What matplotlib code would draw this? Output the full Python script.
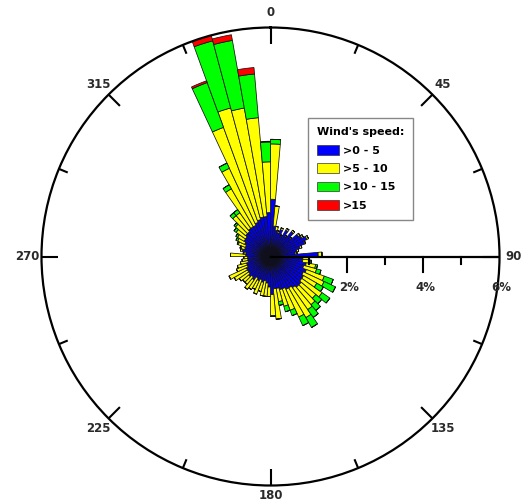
import matplotlib
matplotlib.use("Agg")
import matplotlib.pyplot as plt
import matplotlib.patches as mpatches
import numpy as np

# direction bins (deg, centre of 5 deg sectors)
directions = np.arange(2.5, 360, 5)

# frequency (%) per speed class, 0-360 in 5 deg steps (12 values per row = 60 deg)
blue = [1.50, 0.80, 0.70, 0.65, 0.75, 0.60, 0.80, 0.65, 0.85, 0.70, 0.90, 0.95,
        1.05, 0.95, 0.80, 0.70, 0.65, 1.25, 0.85, 0.85, 0.95, 0.90, 1.00, 0.95,
        1.00, 1.00, 1.05, 1.05, 1.00, 0.95, 0.95, 0.90, 0.90, 0.85, 0.85, 1.00,
        0.80, 0.70, 0.65, 0.70, 0.65, 0.70, 0.65, 0.75, 0.70, 0.75, 0.70, 0.70,
        0.70, 0.65, 0.65, 0.60, 0.60, 0.60, 0.65, 0.65, 0.75, 0.70, 0.70, 0.75,
        0.80, 0.80, 0.85, 0.85, 0.90, 0.90, 0.90, 0.95, 1.00, 1.05, 1.05, 1.15]
yellow = [1.45, 0.53, 0.10, 0.05, 0.05, 0.03, 0.05, 0.03, 0.05, 0.03, 0.05, 0.05,
          0.05, 0.03, 0.05, 0.05, 0.05, 0.10, 0.15, 0.20, 0.25, 0.35, 0.50, 0.60,
          0.40, 0.65, 0.50, 0.60, 0.70, 0.90, 0.80, 0.60, 0.45, 0.35, 0.80, 0.55,
          0.25, 0.35, 0.40, 0.25, 0.40, 0.25, 0.35, 0.30, 0.25, 0.20, 0.30, 0.40,
          0.50, 0.30, 0.25, 0.20, 0.15, 0.10, 0.40, 0.05, 0.05, 0.10, 0.20, 0.20,
          0.20, 0.30, 0.35, 0.55, 0.50, 1.15, 1.65, 2.65, 3.03, 2.90, 2.60, 1.33]
green = [0.12, 0.00, 0.00, 0.00, 0.00, 0.00, 0.00, 0.00, 0.00, 0.00, 0.00, 0.00,
         0.00, 0.00, 0.00, 0.00, 0.00, 0.00, 0.00, 0.03, 0.05, 0.12, 0.25, 0.33,
         0.20, 0.25, 0.20, 0.20, 0.25, 0.30, 0.25, 0.15, 0.15, 0.10, 0.00, 0.02,
         0.00, 0.00, 0.00, 0.00, 0.00, 0.00, 0.00, 0.00, 0.00, 0.00, 0.00, 0.00,
         0.00, 0.00, 0.00, 0.00, 0.00, 0.00, 0.00, 0.02, 0.00, 0.03, 0.03, 0.05,
         0.05, 0.07, 0.05, 0.10, 0.10, 0.12, 0.15, 1.25, 1.82, 1.80, 1.15, 0.52]
red = [0.0] * 67 + [0.05, 0.15, 0.15, 0.17, 0.02]

classes = [">0 - 5", ">5 - 10", ">10 - 15", ">15"]
colors = ["#0000ff", "#ffff00", "#00ff00", "#ff0000"]

fig = plt.figure(figsize=(5.32, 5.04), dpi=100)
pos = [41.5 / 532, (504 - 485.5) / 504, 458 / 532, 458 / 504]
ax = fig.add_axes(pos, projection="polar")
ax.set_theta_zero_location("N")
ax.set_theta_direction(-1)

theta = np.deg2rad(directions)
width = np.deg2rad(5)
bottom = np.zeros(len(directions))
for vals, col in zip([blue, yellow, green, red], colors):
    vals = np.array(vals)
    ax.bar(theta, vals, width=width, bottom=bottom, color=col,
           edgecolor="#111111", linewidth=0.55, zorder=2)
    bottom += vals

ax.set_ylim(0, 6)
ax.set_xticks([])
ax.set_yticks([])
ax.grid(False)
ax.spines["polar"].set_linewidth(1.6)

# overlay for ticks and labels
ov = fig.add_axes(pos, zorder=3)
ov.set_xlim(-6, 6)
ov.set_ylim(-6, 6)
ov.axis("off")
ov.patch.set_alpha(0)

lab_col = "#2a2a2a"
for a in np.arange(0, 360, 22.5):
    L = 0.42 if a % 45 == 0 else 0.25
    t = np.deg2rad(a)
    ov.plot([6 * np.sin(t), (6 - L) * np.sin(t)], [6 * np.cos(t), (6 - L) * np.cos(t)],
            color="black", lw=1.5, solid_capstyle="butt")
    if a % 45 == 0:
        rl = 6.27 if a == 180 else 6.38
        ov.text(rl * np.sin(t), rl * np.cos(t), str(int(a)), ha="center",
                va="center", fontsize=8.5, fontweight="bold", color=lab_col, clip_on=False)

# radial axis towards 90
ov.plot([0, 6], [0, 0], color="black", lw=1.6, zorder=4)
for r in range(1, 6):
    L = 0.4 if r % 2 == 0 else 0.2
    ov.plot([r, r], [0, -L], color="black", lw=1.5, zorder=4)
for r in [2, 4, 6]:
    ov.text(r + 0.05, -0.8, f"{r}%", ha="center", va="center", fontsize=8.5,
            fontweight="bold", color=lab_col)

handles = [mpatches.Patch(facecolor=c, edgecolor="#333333", linewidth=0.5) for c in colors]
leg = fig.legend(handles, classes, title="Wind's speed:", loc="upper left",
                 bbox_to_anchor=(0.5796, 0.7653), fancybox=False, framealpha=1,
                 edgecolor="#888888", prop={"weight": "bold", "size": 8},
                 title_fontproperties={"weight": "bold", "size": 8},
                 alignment="left", handlelength=2.0, handleheight=0.95,
                 labelspacing=0.7, handletextpad=0.3, borderpad=0.8,
                 borderaxespad=0)
leg.get_frame().set_linewidth(1.0)

fig.savefig("out.png", dpi=100)
